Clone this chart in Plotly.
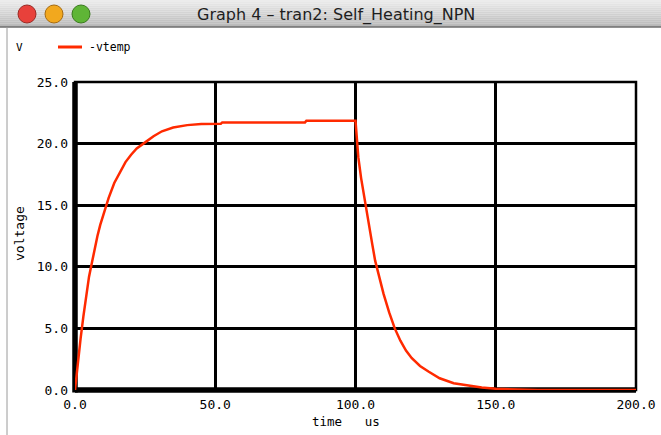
import plotly.graph_objects as go

# ---- data ----
time_us = [0, 1, 2, 3, 4, 5, 6, 7, 8, 9, 10, 12, 14, 16, 18, 20, 22, 25, 28, 31, 35, 40, 45,
           52, 52.5, 82, 82.5, 100,
           100.3, 101, 102, 103, 104, 105, 106, 107, 108, 109, 110, 112, 114, 116, 118, 120,
           123, 126, 130, 135, 140, 145, 150, 157, 165, 200]
vtemp = [0, 2.2, 4.2, 6.0, 7.7, 9.2, 10.3, 11.5, 12.5, 13.4, 14.2, 15.6, 16.8, 17.7, 18.5, 19.1, 19.6,
         20.1, 20.6, 21.0, 21.3, 21.5, 21.6,
         21.62, 21.72, 21.72, 21.86, 21.86,
         21.0, 18.9, 17.2, 15.8, 14.4, 12.9, 11.8, 10.5, 9.6, 8.7, 7.8, 6.3, 5.0, 4.0, 3.2, 2.6,
         1.95, 1.5, 0.95, 0.55, 0.35, 0.2, 0.1, 0.03, 0, 0]

x_ticks = [0, 50, 100, 150, 200]
x_tick_labels = ["0.0", "50.0", "100.0", "150.0", "200.0"]
y_ticks = [0, 5, 10, 15, 20, 25]
y_tick_labels = ["0.0", "5.0", "10.0", "15.0", "20.0", "25.0"]

window_title = "Graph 4 \u2013 tran2: Self_Heating_NPN"
legend_name = "-vtemp"

W, H = 661, 435
L, R, T, B = 75, 25, 82, 45
PW, PH = W - L - R, H - T - B

def px(x):
    return (x - L) / PW

def py(y):
    return (H - B - y) / PH

RED = "#ff2a00"
MONO = "DejaVu Sans Mono"

fig = go.Figure()
fig.add_trace(go.Scatter(x=time_us, y=vtemp, mode="lines", name=legend_name,
                         line=dict(color=RED, width=2.5), showlegend=False))

shapes = []
# title bar gradient
top_c = (236, 236, 236)
bot_c = (184, 184, 184)
n = 14
bar_h = 27
for i in range(n):
    f = i / (n - 1)
    c = tuple(int(top_c[k] + (bot_c[k] - top_c[k]) * f) for k in range(3))
    y0 = bar_h * i / n
    y1 = bar_h * (i + 1) / n
    shapes.append(dict(type="rect", xref="paper", yref="paper",
                       x0=px(0), x1=px(W), y0=py(y1), y1=py(y0),
                       fillcolor="rgb(%d,%d,%d)" % c, line=dict(width=0), layer="above"))
shapes.append(dict(type="line", xref="paper", yref="paper", x0=px(0), x1=px(W),
                   y0=py(bar_h), y1=py(bar_h), line=dict(color="#6e6e6e", width=1.5), layer="above"))
# traffic lights
for cx, fill, edge in [(27, "#e8413b", "#9a2a24"), (54, "#f2a81e", "#a66b10"), (81, "#5fb536", "#3a7a1e")]:
    r = 9
    shapes.append(dict(type="circle", xref="paper", yref="paper",
                       x0=px(cx - r), x1=px(cx + r), y0=py(14 + r), y1=py(14 - r),
                       fillcolor=fill, line=dict(color=edge, width=1), layer="above"))
# left window edge
shapes.append(dict(type="line", xref="paper", yref="paper", x0=px(7), x1=px(7),
                   y0=py(H), y1=py(bar_h), line=dict(color="#9a9a9a", width=1), layer="above"))
# legend line sample
shapes.append(dict(type="line", xref="paper", yref="paper", x0=px(58), x1=px(82),
                   y0=py(47), y1=py(47), line=dict(color=RED, width=3), layer="above"))
# plot border
shapes.append(dict(type="rect", xref="paper", yref="paper", x0=0, x1=1, y0=0, y1=1,
                   line=dict(color="black", width=2.5), layer="between"))
# thick axes
shapes.append(dict(type="line", xref="paper", yref="paper", x0=0, x1=0, y0=-0.008, y1=1,
                   line=dict(color="black", width=5.5), layer="between"))
shapes.append(dict(type="line", xref="paper", yref="paper", x0=0, x1=1, y0=0, y1=0,
                   line=dict(color="black", width=5.5), layer="between"))

annotations = [
    dict(text=window_title, x=px(336), y=py(15), xref="paper", yref="paper",
         showarrow=False, xanchor="center", yanchor="middle",
         font=dict(family="DejaVu Sans", size=16, color="#1e1e1e")),
    dict(text="V", x=px(14), y=py(47), xref="paper", yref="paper", showarrow=False,
         xanchor="left", yanchor="middle", font=dict(family=MONO, size=11, color="black")),
    dict(text=legend_name, x=px(87), y=py(47), xref="paper", yref="paper", showarrow=False,
         xanchor="left", yanchor="middle", font=dict(family=MONO, size=11.5, color="black")),
    dict(text="voltage", x=px(19), y=py(234), xref="paper", yref="paper", showarrow=False,
         textangle=-90, xanchor="center", yanchor="middle",
         font=dict(family=MONO, size=13, color="black")),
    dict(text="time\u00a0\u00a0\u00a0us", x=px(346), y=py(421), xref="paper", yref="paper",
         showarrow=False, xanchor="center", yanchor="middle",
         font=dict(family=MONO, size=12.5, color="black")),
]

fig.update_layout(
    width=W, height=H, autosize=False,
    margin=dict(l=L, r=R, t=T, b=B, pad=0, autoexpand=False),
    paper_bgcolor="white", plot_bgcolor="white",
    showlegend=False,
    shapes=shapes, annotations=annotations,
    xaxis=dict(range=[0, 200], tickvals=x_ticks, ticktext=x_tick_labels,
               showgrid=True, gridcolor="black", gridwidth=2.5, zeroline=False,
               showline=False, ticks="", ticklabelstandoff=5, automargin=False,
               tickfont=dict(family=MONO, size=13, color="black")),
    yaxis=dict(range=[0, 25], tickvals=y_ticks, ticktext=y_tick_labels,
               showgrid=True, gridcolor="black", gridwidth=2.5, zeroline=False,
               showline=False, ticks="", ticklabelstandoff=6, automargin=False,
               tickfont=dict(family=MONO, size=13, color="black")),
)

fig.write_html("out.html", config={"displayModeBar": False},
               post_script="document.body.style.margin='0px';document.body.style.overflow='hidden';")
